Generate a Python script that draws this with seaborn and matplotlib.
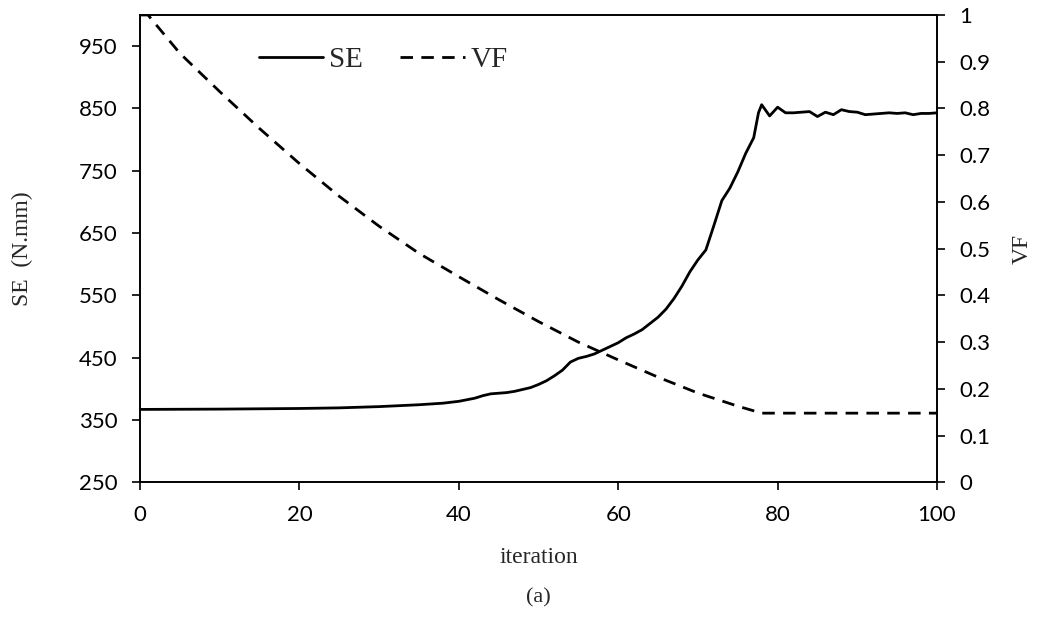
import matplotlib
matplotlib.use("Agg")
import matplotlib.pyplot as plt
import seaborn as sns
import pandas as pd

# ---- data ----
se_iter = [0, 10, 20, 25, 30, 35, 38, 40, 42, 43, 44, 45, 46, 47, 48, 49, 50, 51, 52, 53,
           54, 55, 56, 57, 58, 59, 60, 61, 62, 63, 64, 65, 66, 67, 68, 69, 70, 71, 72, 73,
           74, 75, 76, 77, 77.6, 78, 79, 80, 81, 82, 83, 84, 85, 86, 87, 88, 89, 90, 91,
           92, 93, 94, 95, 96, 97, 98, 99, 100]
se_vals = [367, 367.5, 368.5, 369.5, 371.5, 374.5, 377, 380, 385, 389, 392, 393, 394, 396,
           399, 402, 407, 413, 421, 430, 443, 449, 452, 456, 462, 468, 474, 482, 488, 495,
           505, 515, 528, 545, 565, 588, 607, 623, 662, 702, 722, 748, 778, 803, 843, 856,
           838, 852, 843, 843, 844, 845, 837, 844, 840, 848, 845, 844, 840, 841, 842, 843,
           842, 843, 840, 842, 842, 843]

vf_iter = [0, 1, 5, 10, 15, 20, 25, 30, 35, 40, 45, 50, 55, 60, 65, 70, 75, 78, 80, 90, 100]
vf_vals = [1.0, 1.0, 0.918, 0.836, 0.757, 0.682, 0.612, 0.548, 0.490, 0.440, 0.391, 0.344,
           0.300, 0.262, 0.225, 0.191, 0.163, 0.148, 0.148, 0.148, 0.148]

se_ticks = [250, 350, 450, 550, 650, 750, 850, 950]
vf_ticks = [0, 0.1, 0.2, 0.3, 0.4, 0.5, 0.6, 0.7, 0.8, 0.9, 1.0]
vf_tick_labels = ["0", "0.1", "0.2", "0.3", "0.4", "0.5", "0.6", "0.7", "0.8", "0.9", "1"]
x_ticks = [0, 20, 40, 60, 80, 100]

se_df = pd.DataFrame({"iteration": se_iter, "SE": se_vals})
vf_df = pd.DataFrame({"iteration": vf_iter, "VF": vf_vals})

sns.set_style("ticks")
plt.rcParams["font.family"] = ["Lato", "DejaVu Sans"]

fig = plt.figure(figsize=(10.38, 6.19), dpi=100)
ax = fig.add_axes([0.1349, 0.2208, 0.7678, 0.7550])
ax2 = ax.twinx()

sns.lineplot(data=se_df, x="iteration", y="SE", ax=ax, color="black", linewidth=2.0,
             label="SE", legend=False)
sns.lineplot(data=vf_df, x="iteration", y="VF", ax=ax2, color="black", linewidth=2.0,
             linestyle=(0, (4.5, 3)), label="VF", legend=False)

ax.set_xlim(0, 100)
ax.set_ylim(250, 1000)
ax2.set_ylim(0, 1)
ax.set_xticks(x_ticks)
ax.set_yticks(se_ticks)
ax2.set_yticks(vf_ticks)
ax2.set_yticklabels(vf_tick_labels)

for a in (ax, ax2):
    for s in a.spines.values():
        s.set_visible(True)
        s.set_linewidth(1.2)
        s.set_color("black")
    a.tick_params(axis="both", direction="out", length=6, width=1.2, colors="black",
                  labelsize=16, pad=10)
ax.tick_params(axis="y", right=False)
ax2.tick_params(axis="y", left=False, right=True)

serif = ["Liberation Serif", "DejaVu Serif"]
ax.set_xlabel("iteration", fontsize=17, family=serif, va="center")
ax.xaxis.set_label_coords(0.5, -0.16)
ax.set_ylabel("SE  (N.mm)", fontsize=17, family=serif, va="center")
ax.yaxis.set_label_coords(-0.148, 0.5)
ax2.set_ylabel("VF", fontsize=17, family=serif, va="center", rotation=90)
ax2.yaxis.set_label_coords(1.107, 0.5)

h1, l1 = ax.get_legend_handles_labels()
h2, l2 = ax2.get_legend_handles_labels()
leg = ax2.legend(h1 + h2, l1 + l2, loc="center", bbox_to_anchor=(0.305, 0.904),
                 ncol=2, frameon=False, handlelength=2.2, columnspacing=1.3,
                 handletextpad=0.2, prop={"family": serif, "size": 21})

fig.text(0.5188, 0.034, "(a)", ha="center", va="center", fontsize=16, family=serif)

fig.savefig("out.png", dpi=100)
